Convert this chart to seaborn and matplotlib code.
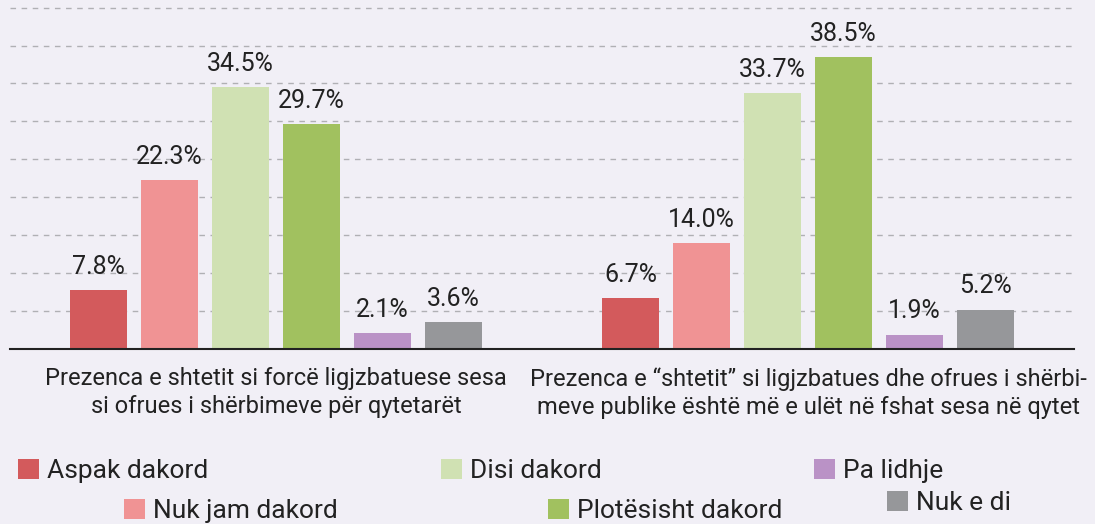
import matplotlib
matplotlib.use("Agg")
import matplotlib.pyplot as plt
import seaborn as sns
import pandas as pd
from matplotlib.patches import Patch

groups = ["Prezenca e shtetit si forcë ligjzbatuese sesa\nsi ofrues i shërbimeve për qytetarët",
          "Prezenca e “shtetit” si ligjzbatues dhe ofrues i shërbi-\nmeve publike është më e ulët në fshat sesa në qytet"]
answers = ["Aspak dakord", "Nuk jam dakord", "Disi dakord", "Plotësisht dakord", "Pa lidhje", "Nuk e di"]
values_g1 = [7.8, 22.3, 34.5, 29.7, 2.1, 3.6]
values_g2 = [6.7, 14.0, 33.7, 38.5, 1.9, 5.2]
colors = ["#D35A5C", "#F09394", "#D0E1B3", "#A1C15F", "#BA92C6", "#96979A"]

rows = []
for g, vals in zip(groups, [values_g1, values_g2]):
    for a, v in zip(answers, vals):
        rows.append({"group": g, "answer": a, "value": v})
df = pd.DataFrame(rows)

bg = "#F1EFF6"
sns.set_theme(style="white")
plt.rcParams["font.family"] = ["Roboto", "DejaVu Sans"]

fig = plt.figure(figsize=(10.95, 5.24), dpi=100, facecolor=bg)
ax = fig.add_axes([0.0091, 0.334, 0.972, 0.666], facecolor=bg)

sns.barplot(data=df, x="group", y="value", hue="answer", hue_order=answers,
            palette=colors, width=0.8, gap=0.2, ax=ax, legend=False,
            saturation=1, edgecolor="none")

for c in ax.containers:
    ax.bar_label(c, fmt="%.1f%%", padding=8, fontsize=18, color="#222222")

ax.set_ylim(0, 46)
ax.set_xlim(-0.5, 1.5)
ax.set_yticks([5, 10, 15, 20, 25, 30, 35, 40, 45])
ax.set_yticklabels([])
ax.yaxis.grid(True, linestyle=(0, (4, 4)), color="#B0B0B4", linewidth=1)
ax.set_axisbelow(True)
for s in ["top", "right", "left"]:
    ax.spines[s].set_visible(False)
ax.spines["bottom"].set_color("#222222")
ax.spines["bottom"].set_linewidth(1.5)
ax.tick_params(axis="y", length=0)
ax.tick_params(axis="x", length=0, pad=13, labelsize=17, labelcolor="#222222")
for lbl in ax.get_xticklabels():
    lbl.set_linespacing(1.3)
ax.set_xlabel("")
ax.set_ylabel("")

# staggered legend entries
pos = [(0.016, 0.101), (0.113, 0.025), (0.403, 0.101), (0.500, 0.025), (0.743, 0.101), (0.810, 0.04)]
for a, c, (x, y) in zip(answers, colors, pos):
    fig.legend(handles=[Patch(facecolor=c, edgecolor="none")], labels=[a],
               loc="center left", bbox_to_anchor=(x, y), frameon=False,
               fontsize=19, handlelength=0.8, handleheight=0.8, handletextpad=0.3,
               borderpad=0, borderaxespad=0, labelcolor="#222222")

fig.savefig("out.png", dpi=100, facecolor=bg)
